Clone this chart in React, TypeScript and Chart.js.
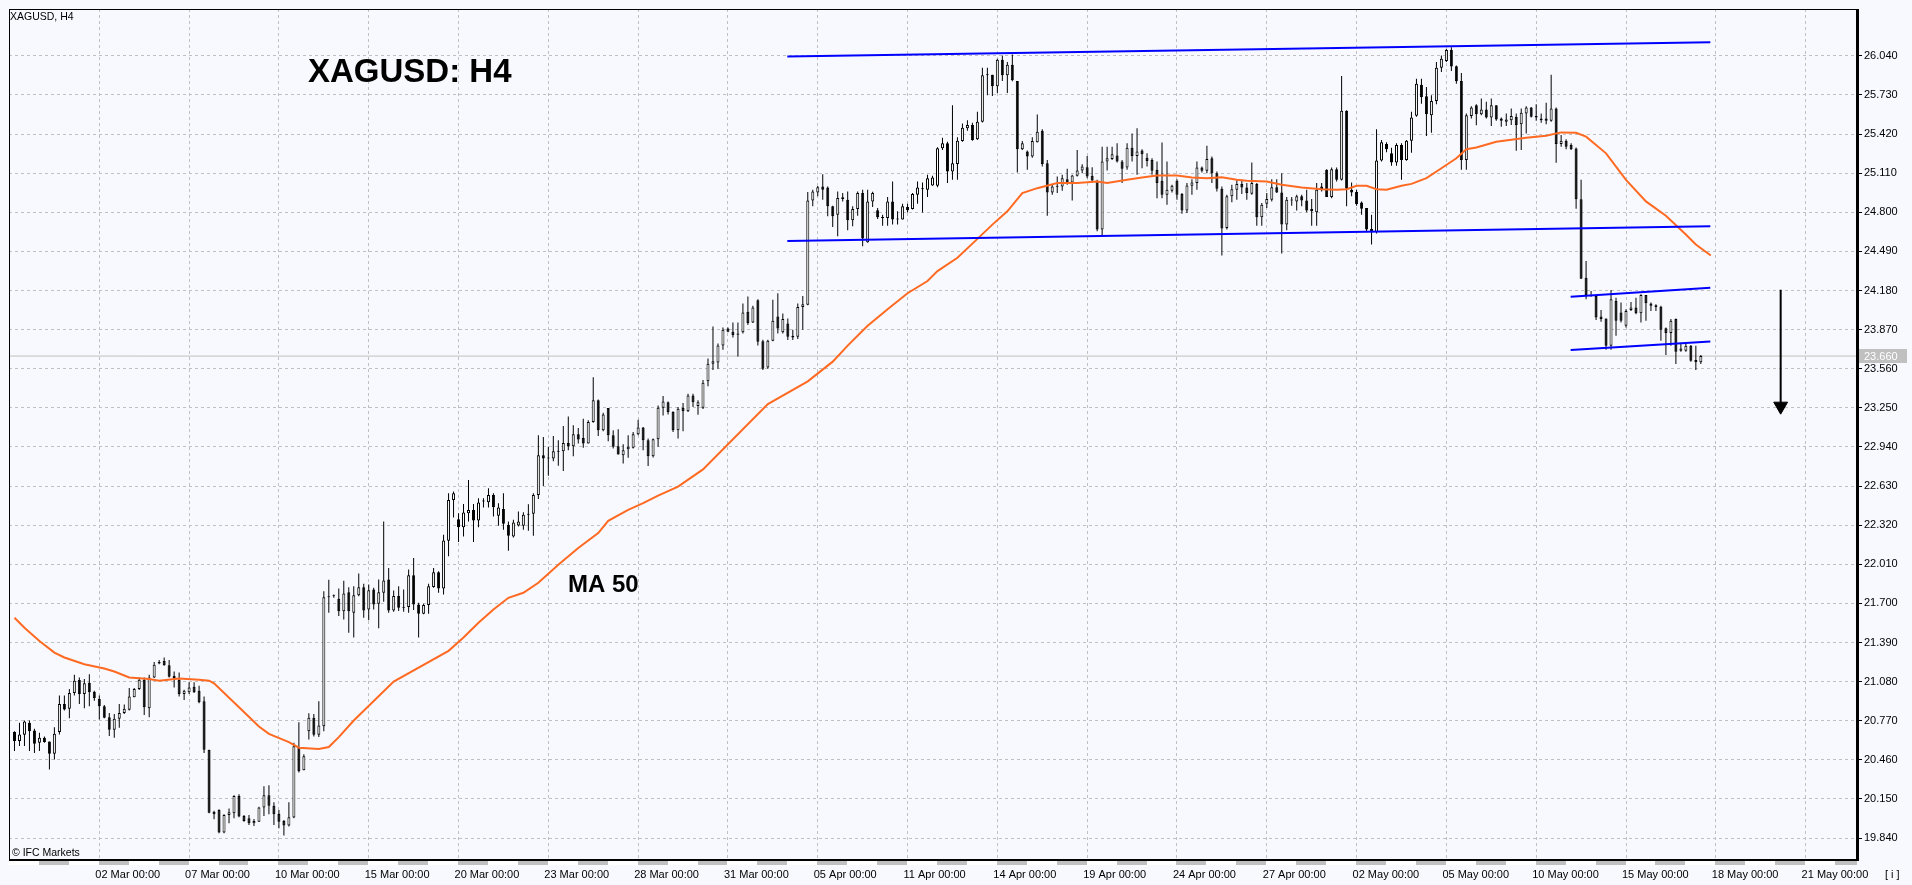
import React, { useEffect, useRef } from 'react';
import { Chart, registerables } from 'chart.js';

Chart.register(...registerables);

// ---------- data (H4 bars, bar index 1 .. 339) ----------
const FIRST_BAR = 1;

const OPEN = [
  20.680,20.609,20.659,20.753,20.693,20.596,20.635,20.606,20.509,20.680,
  20.903,20.864,20.990,21.092,20.982,21.071,21.000,20.942,20.885,20.798,
  20.698,20.785,20.832,20.856,20.955,21.021,21.095,20.869,21.113,21.223,
  21.244,21.210,21.126,21.092,20.982,20.995,21.040,21.008,20.924,20.540,
  20.049,20.062,19.884,20.023,20.036,20.173,20.015,19.997,19.957,19.970,
  20.083,20.180,20.096,20.031,19.976,19.939,20.002,20.561,20.378,20.687,
  20.793,20.659,20.727,21.757,21.765,21.736,21.638,21.788,21.626,21.765,
  21.828,21.652,21.810,21.697,21.784,21.889,21.644,21.758,21.671,21.671,
  21.923,21.692,21.618,21.687,21.829,21.947,21.818,22.196,22.520,22.367,
  22.304,22.415,22.441,22.357,22.507,22.501,22.559,22.394,22.449,22.323,
  22.231,22.317,22.315,22.402,22.410,22.559,22.875,22.854,22.849,22.901,
  22.906,22.972,22.946,23.040,23.011,22.967,23.138,23.309,23.072,23.248,
  23.032,22.946,22.875,22.922,22.933,23.040,23.093,22.993,22.867,23.001,
  23.251,23.295,23.217,23.072,23.248,23.222,23.348,23.264,23.251,23.460,
  23.600,23.610,23.743,23.879,23.853,23.830,23.848,24.011,23.927,24.103,
  23.777,23.570,23.782,23.974,23.848,23.919,23.821,23.814,24.050,24.066,
  24.894,24.957,25.004,24.996,24.847,24.781,24.918,24.899,24.736,24.826,
  24.952,24.563,24.886,24.815,24.763,24.755,24.886,24.747,24.742,24.842,
  24.826,24.939,24.983,24.978,25.012,25.010,25.307,25.346,25.123,25.183,
  25.365,25.465,25.491,25.378,25.517,25.885,25.890,25.799,26.009,25.885,
  25.969,25.841,25.299,25.281,25.241,25.354,25.446,25.189,24.957,25.002,
  25.005,25.062,25.036,25.089,25.131,25.157,25.089,25.049,24.663,25.202,
  25.223,25.249,25.202,25.154,25.312,25.246,25.289,25.233,25.215,25.136,
  25.049,24.939,24.970,25.049,24.944,24.813,25.010,25.031,25.154,25.128,
  25.228,25.110,24.986,24.676,24.926,24.978,25.023,24.997,24.947,25.023,
  24.760,24.868,24.899,24.999,24.957,24.702,24.894,24.886,24.926,24.894,
  24.826,24.800,25.005,25.136,24.920,25.141,25.057,25.604,24.978,24.960,
  24.878,24.834,24.668,24.642,25.210,25.341,25.268,25.194,25.333,25.214,
  25.367,25.564,25.811,25.719,25.569,25.682,25.945,25.998,26.087,25.958,
  25.840,25.214,25.562,25.648,25.577,25.614,25.551,25.648,25.543,25.517,
  25.530,25.556,25.498,25.583,25.630,25.562,25.543,25.543,25.525,25.622,
  25.341,25.367,25.333,25.306,24.904,24.281,24.137,24.137,23.974,23.958,
  23.742,24.097,24.005,23.900,24.026,24.045,24.000,24.145,24.076,24.063,
  24.052,23.881,23.842,23.953,23.703,23.703,23.742,23.629,23.611,
];

const HIGH = [
  20.687,20.753,20.772,20.772,20.706,20.674,20.645,20.606,20.719,20.969,
  20.969,21.021,21.134,21.113,21.100,21.139,21.008,20.969,20.895,20.832,
  20.824,20.903,20.898,21.029,21.029,21.113,21.113,21.134,21.236,21.252,
  21.271,21.252,21.160,21.152,21.016,21.074,21.074,21.047,20.961,20.540,
  20.057,20.068,20.028,20.075,20.180,20.188,20.023,20.023,19.991,20.089,
  20.251,20.259,20.123,20.062,19.984,20.123,20.596,20.758,20.504,20.829,
  20.824,20.924,21.796,21.888,21.770,21.817,21.880,21.828,21.836,21.936,
  21.855,21.850,21.823,21.889,22.349,21.981,21.802,21.836,21.810,21.968,
  22.060,21.705,21.697,21.855,21.981,21.955,22.244,22.572,22.586,22.415,
  22.488,22.678,22.488,22.533,22.533,22.612,22.572,22.494,22.572,22.349,
  22.362,22.428,22.423,22.486,22.572,23.032,23.019,22.941,23.027,22.993,
  23.106,23.182,23.111,23.090,23.164,23.151,23.493,23.316,23.211,23.248,
  23.072,23.080,22.962,23.032,23.059,23.156,23.098,23.006,23.006,23.269,
  23.343,23.301,23.222,23.256,23.288,23.361,23.361,23.309,23.470,23.640,
  23.895,23.760,23.887,23.887,23.927,23.927,24.076,24.132,24.058,24.111,
  23.790,23.790,24.106,24.158,23.998,23.958,23.869,24.076,24.137,24.960,
  24.978,25.009,25.102,25.004,24.852,24.965,24.952,24.965,24.847,24.965,
  24.978,24.978,24.962,24.834,24.781,24.920,25.044,24.807,24.868,24.868,
  24.952,25.044,25.036,25.097,25.089,25.315,25.391,25.359,25.649,25.394,
  25.504,25.530,25.509,25.596,25.946,25.946,25.890,26.017,26.043,25.990,
  26.051,25.841,25.365,25.289,25.394,25.575,25.457,25.215,25.018,25.083,
  25.097,25.144,25.097,25.294,25.180,25.246,25.157,25.057,25.320,25.320,
  25.320,25.346,25.215,25.346,25.425,25.465,25.299,25.267,25.228,25.202,
  25.352,25.202,25.018,25.062,24.952,25.031,25.062,25.202,25.162,25.328,
  25.241,25.123,25.005,24.939,25.018,25.057,25.057,25.031,25.194,25.031,
  24.873,24.952,25.062,25.062,25.110,24.920,24.920,24.939,24.939,24.978,
  24.905,25.031,25.031,25.141,25.154,25.154,25.880,25.609,25.036,24.978,
  24.886,24.834,24.781,25.457,25.373,25.354,25.312,25.346,25.346,25.372,
  25.596,25.859,25.859,25.793,25.727,25.990,26.043,26.095,26.108,25.964,
  25.903,25.583,25.640,25.656,25.701,25.675,25.701,25.648,25.551,25.583,
  25.622,25.583,25.622,25.640,25.635,25.656,25.583,25.667,25.890,25.630,
  25.412,25.378,25.346,25.314,25.057,24.413,24.176,24.137,24.026,23.958,
  24.184,24.123,24.084,24.031,24.089,24.123,24.150,24.145,24.084,24.071,
  24.058,23.887,23.953,23.958,23.755,23.755,23.747,23.742,23.669,
];

const LOW = [
  20.530,20.569,20.569,20.530,20.514,20.530,20.596,20.383,20.462,20.661,
  20.850,20.790,20.969,20.903,20.869,20.885,20.929,20.779,20.790,20.648,
  20.635,20.714,20.824,20.850,20.955,21.013,20.816,20.798,21.108,21.218,
  21.205,21.113,21.034,20.961,20.934,20.982,20.990,20.908,20.514,20.036,
  19.989,19.878,19.878,19.957,19.997,20.005,19.970,19.944,19.936,19.970,
  20.015,20.028,19.944,19.918,19.860,19.931,19.997,20.359,20.378,20.622,
  20.645,20.640,20.687,21.625,21.744,21.599,21.573,21.468,21.429,21.757,
  21.587,21.566,21.652,21.502,21.713,21.626,21.634,21.639,21.634,21.626,
  21.647,21.429,21.613,21.618,21.823,21.784,21.771,22.073,22.381,22.186,
  22.231,22.349,22.186,22.304,22.459,22.459,22.388,22.315,22.283,22.118,
  22.223,22.310,22.283,22.275,22.236,22.528,22.630,22.712,22.827,22.791,
  22.749,22.914,22.867,22.967,22.933,22.967,23.132,23.027,23.064,22.985,
  22.927,22.880,22.809,22.854,22.927,23.032,22.914,22.788,22.856,22.941,
  23.190,23.198,23.059,23.006,23.064,23.217,23.256,23.196,23.240,23.420,
  23.550,23.560,23.711,23.848,23.808,23.656,23.840,23.906,23.922,23.743,
  23.550,23.560,23.777,23.840,23.840,23.787,23.787,23.795,23.869,24.063,
  24.847,24.926,24.899,24.768,24.684,24.610,24.886,24.658,24.689,24.773,
  24.531,24.558,24.842,24.747,24.694,24.694,24.702,24.702,24.742,24.799,
  24.821,24.868,24.799,24.920,25.010,24.999,25.294,25.031,25.057,25.057,
  25.359,25.446,25.367,25.373,25.512,25.728,25.722,25.746,25.841,25.746,
  25.838,25.115,25.294,25.136,25.233,25.352,25.162,24.773,24.939,24.952,
  24.970,25.018,24.894,25.083,25.110,25.070,25.036,24.650,24.616,25.131,
  25.215,25.194,25.031,25.136,25.202,25.097,25.149,25.162,25.097,24.912,
  24.912,24.860,24.957,24.899,24.789,24.794,24.939,24.978,25.115,25.110,
  25.031,24.965,24.458,24.663,24.879,24.899,24.944,24.899,24.939,24.694,
  24.694,24.834,24.886,24.952,24.474,24.658,24.852,24.813,24.847,24.800,
  24.694,24.694,24.965,24.920,24.912,25.044,25.052,24.847,24.926,24.852,
  24.781,24.642,24.544,24.631,25.202,25.275,25.168,25.168,25.057,25.209,
  25.272,25.556,25.661,25.404,25.430,25.656,25.911,25.990,25.919,25.819,
  25.136,25.136,25.543,25.490,25.569,25.543,25.483,25.525,25.477,25.483,
  25.491,25.288,25.293,25.425,25.551,25.525,25.509,25.498,25.517,25.193,
  25.320,25.299,25.293,24.828,24.273,24.110,24.131,23.947,23.932,23.711,
  23.711,23.821,23.926,23.887,24.018,23.992,23.926,23.940,24.018,24.018,
  23.782,23.669,23.742,23.597,23.695,23.695,23.616,23.550,23.597,
];

const CLOSE = [
  20.609,20.661,20.764,20.687,20.588,20.635,20.601,20.509,20.666,20.903,
  20.858,20.990,21.087,20.982,21.066,20.995,20.950,20.885,20.793,20.698,
  20.785,20.832,20.864,20.961,21.021,21.095,20.877,21.113,21.213,21.236,
  21.210,21.118,21.108,20.982,21.008,21.034,20.995,20.916,20.540,20.041,
  20.028,19.884,20.023,20.044,20.173,20.010,19.976,19.957,19.976,20.083,
  20.180,20.096,20.028,19.970,19.939,20.005,20.567,20.370,20.488,20.793,
  20.659,20.732,21.749,21.749,21.757,21.638,21.778,21.638,21.765,21.828,
  21.644,21.805,21.692,21.789,21.881,21.644,21.758,21.666,21.666,21.923,
  21.692,21.618,21.687,21.836,21.947,21.818,22.199,22.520,22.572,22.304,
  22.420,22.441,22.357,22.499,22.512,22.559,22.462,22.459,22.331,22.236,
  22.341,22.349,22.402,22.410,22.559,22.875,22.849,22.849,22.906,22.906,
  22.972,22.946,23.040,22.998,22.967,23.138,23.309,23.072,23.198,23.032,
  22.941,22.880,22.914,22.941,23.040,23.093,22.993,22.867,23.001,23.251,
  23.301,23.217,23.072,23.243,23.222,23.348,23.295,23.295,23.448,23.600,
  23.620,23.743,23.869,23.853,23.827,23.840,24.006,23.922,24.045,23.774,
  23.560,23.782,23.940,23.879,23.953,23.814,23.808,24.050,24.071,24.894,
  24.965,24.999,24.978,24.847,24.768,24.913,24.905,24.736,24.826,24.952,
  24.592,24.886,24.952,24.760,24.755,24.886,24.742,24.742,24.847,24.815,
  24.944,24.997,24.991,25.070,25.075,25.307,25.346,25.123,25.189,25.367,
  25.470,25.491,25.373,25.517,25.885,25.890,25.799,26.009,25.885,25.969,
  25.846,25.299,25.346,25.241,25.365,25.438,25.183,24.957,25.005,25.010,
  25.070,25.036,25.091,25.131,25.162,25.083,25.052,24.663,25.202,25.228,
  25.260,25.202,25.144,25.312,25.246,25.281,25.260,25.207,25.128,25.031,
  24.939,24.978,25.010,24.939,24.813,25.012,25.036,25.154,25.128,25.223,
  25.110,24.986,24.671,24.926,24.983,25.023,24.997,24.952,25.031,24.760,
  24.860,24.905,24.999,24.957,24.702,24.899,24.899,24.926,24.894,24.813,
  24.807,24.978,24.978,24.920,25.141,25.057,25.604,24.986,24.957,24.865,
  24.828,24.663,24.642,25.210,25.354,25.299,25.194,25.333,25.214,25.367,
  25.551,25.819,25.714,25.577,25.682,25.945,26.016,26.087,25.956,25.838,
  25.214,25.569,25.630,25.577,25.614,25.551,25.648,25.535,25.525,25.535,
  25.562,25.491,25.588,25.630,25.556,25.551,25.530,25.525,25.622,25.341,
  25.367,25.320,25.299,24.904,24.273,24.142,24.145,23.966,23.953,23.742,
  24.110,23.940,23.940,24.018,24.045,24.000,24.145,24.079,24.058,24.050,
  23.868,23.842,23.940,23.695,23.721,23.742,23.624,23.611,23.660,
];

// Moving average (MA 50)
const MA50_BARS = [
  1,3,6,9,11,15,19,21,24,28,30,34,38,40,41,46,50,52,56,58,
  62,64,66,69,77,88,91,94,97,100,103,106,110,114,118,120,124,127,130,134,
  139,152,160,165,168,172,176,180,184,186,190,194,197,200,203,206,210,214,218,220,
  224,227,230,234,237,240,243,246,248,252,255,259,263,266,268,270,272,274,276,279,
  281,284,287,290,292,294,298,304,308,311,314,316,320,324,328,332,336,338,341,
];
const MA50_VALUES = [
  21.586,21.507,21.402,21.310,21.271,21.218,21.184,21.160,21.113,21.100,
  21.087,21.105,21.095,21.087,21.066,20.877,20.724,20.666,20.601,20.556,
  20.546,20.561,20.640,20.772,21.080,21.324,21.429,21.547,21.652,21.744,
  21.784,21.863,22.007,22.139,22.257,22.354,22.441,22.494,22.554,22.625,
  22.762,23.280,23.460,23.616,23.743,23.900,24.032,24.158,24.255,24.334,
  24.439,24.589,24.702,24.807,24.952,24.991,25.031,25.031,25.044,25.031,
  25.057,25.076,25.091,25.091,25.076,25.070,25.078,25.057,25.049,25.044,
  25.018,24.997,24.983,24.978,24.983,25.010,25.010,24.983,24.978,25.010,
  25.025,25.070,25.149,25.228,25.299,25.314,25.359,25.391,25.407,25.433,
  25.430,25.399,25.267,25.057,24.886,24.773,24.623,24.544,24.457,
];

// Trend channel lines
const CHANNEL_BARS = [155.9, 340.9];
const CHANNEL_UPPER = [26.035, 26.148];
const CHANNEL_LOWER = [24.573, 24.689];
const SMALL_CHANNEL_BARS = [312.9, 340.9];
const SMALL_CHANNEL_UPPER = [24.131, 24.202];
const SMALL_CHANNEL_LOWER = [23.708, 23.776];

// Forecast arrow
const ARROW_BAR = 355;
const ARROW_FROM = 24.186;
const ARROW_TO = 23.263;

const LAST_PRICE = 23.66;

// Axes
const LABEL_BARS = [18,36,54,72,90,108,126,144,162,180,198,216,234,252,270,288,306,324,342,360];
const DATE_LABELS = [
  '02 Mar 00:00','07 Mar 00:00','10 Mar 00:00','15 Mar 00:00','20 Mar 00:00',
  '23 Mar 00:00','28 Mar 00:00','31 Mar 00:00','05 Apr 00:00','11 Apr 00:00',
  '14 Apr 00:00','19 Apr 00:00','24 Apr 00:00','27 Apr 00:00','02 May 00:00',
  '05 May 00:00','10 May 00:00','15 May 00:00','18 May 00:00','21 May 00:00',
];
const PRICE_TICKS = [
  19.84,20.15,20.46,20.77,21.08,21.39,21.70,22.01,22.32,22.63,22.94,
  23.25,23.56,23.87,24.18,24.49,24.80,25.11,25.42,25.73,26.04,
];
const DAY_BAND_ORIGIN = 282;
const BARS_PER_DAY = 6;

// ---------- styling ----------
const BG = '#F8F9FE';
const GRID = '#C0C0C0';
const FONT = '"Liberation Sans", Arial, sans-serif';
const NARROW_FONT = '"Liberation Sans Narrow", "Arial Narrow", "Liberation Sans", Arial, sans-serif';

export default function App() {
  const canvasRef = useRef<HTMLCanvasElement>(null);

  useEffect(() => {
    document.body.style.margin = '0';
    document.body.style.background = BG;
    const canvas = canvasRef.current;
    if (!canvas) return;

    const bars = OPEN.map((_, k) => FIRST_BAR + k);
    const wickData = bars.map((x, k) => ({ x, y: [LOW[k], HIGH[k]] }));
    const bodyData = bars.map((x, k) => ({ x, y: [OPEN[k], CLOSE[k]] }));
    const bodyFill = bars.map((_, k) => (CLOSE[k] >= OPEN[k] ? '#FFFFFF' : '#000000'));
    const maData = MA50_BARS.map((x, k) => ({ x, y: MA50_VALUES[k] }));
    const line = (xs: number[], ys: number[]) => xs.map((x, k) => ({ x, y: ys[k] }));

    const X_MIN = -0.1;
    const X_MAX = 370.3;

    const decor = {
      id: 'decor',
      beforeDraw(chart: any) {
        const c = chart.ctx;
        c.save();
        c.fillStyle = BG;
        c.fillRect(0, 0, chart.width, chart.height);
        c.restore();
      },
      afterDraw(chart: any) {
        const c = chart.ctx;
        const a = chart.chartArea;
        const xs = chart.scales.x;
        const ys = chart.scales.y;
        c.save();
        // day separator band under time axis
        const kStart = Math.floor((X_MIN - DAY_BAND_ORIGIN) / BARS_PER_DAY);
        const kEnd = Math.ceil((X_MAX - DAY_BAND_ORIGIN) / BARS_PER_DAY);
        for (let k = kStart; k <= kEnd; k++) {
          const b0 = DAY_BAND_ORIGIN + k * BARS_PER_DAY;
          let x0 = Math.floor(xs.getPixelForValue(b0));
          let x1 = Math.floor(xs.getPixelForValue(b0 + BARS_PER_DAY));
          x0 = Math.max(x0, a.left);
          x1 = Math.min(x1, a.right);
          if (x1 <= x0) continue;
          c.fillStyle = k % 2 === 0 ? GRID : '#FFFFFF';
          c.fillRect(x0, a.bottom + 1, x1 - x0, 4);
        }
        // frame
        c.fillStyle = '#000000';
        c.fillRect(a.left, a.top, 1, a.bottom - a.top);
        c.fillRect(a.left, a.top, a.right - a.left, 1);
        c.fillRect(a.left, a.bottom - 1, a.right - a.left + 2, 2);
        c.fillRect(a.right - 1, a.top, 3, a.bottom - a.top + 1);
        // last price label
        const py = ys.getPixelForValue(LAST_PRICE);
        c.fillStyle = GRID;
        c.fillRect(a.right + 2, Math.round(py) - 7, 48, 14);
        c.fillStyle = '#FFFFFF';
        c.font = `11px ${FONT}`;
        c.textBaseline = 'middle';
        c.textAlign = 'left';
        c.fillText(LAST_PRICE.toFixed(3), a.right + 7, py + 0.5);
        // texts
        c.fillStyle = '#000000';
        c.font = `10.5px ${FONT}`;
        c.fillText('XAGUSD, H4', 10, 17);
        c.textBaseline = 'alphabetic';
        c.font = `bold 33px ${FONT}`;
        c.fillText('XAGUSD: H4', 308, 82);
        c.font = `bold 24px ${FONT}`;
        c.fillText('MA 50', 568, 592);
        c.font = `10.5px ${FONT}`;
        c.fillText('\u00A9 IFC Markets', 12, 856);
        c.font = `11px ${FONT}`;
        c.textBaseline = 'middle';
        c.fillText('[ i ]', 1885, 875);
        c.restore();
      },
    };

    const chart = new Chart(canvas, {
      type: 'bar',
      data: {
        datasets: [
          {
            type: 'line',
            data: [{ x: ARROW_BAR, y: ARROW_FROM }, { x: ARROW_BAR, y: ARROW_TO }],
            borderColor: '#000000',
            borderWidth: 2,
            pointRadius: [0, 8],
            pointStyle: 'triangle',
            pointRotation: 180,
            pointBackgroundColor: '#000000',
            pointBorderColor: '#000000',
            pointBorderWidth: 1,
            order: 0,
          } as any,
          { type: 'line', data: line(CHANNEL_BARS, CHANNEL_UPPER), borderColor: '#0000FF', borderWidth: 2, pointRadius: 0, order: 1 } as any,
          { type: 'line', data: line(CHANNEL_BARS, CHANNEL_LOWER), borderColor: '#0000FF', borderWidth: 2, pointRadius: 0, order: 1 } as any,
          { type: 'line', data: line(SMALL_CHANNEL_BARS, SMALL_CHANNEL_UPPER), borderColor: '#0000FF', borderWidth: 2, pointRadius: 0, order: 1 } as any,
          { type: 'line', data: line(SMALL_CHANNEL_BARS, SMALL_CHANNEL_LOWER), borderColor: '#0000FF', borderWidth: 2, pointRadius: 0, order: 1 } as any,
          { type: 'line', data: maData, borderColor: '#FF6A22', borderWidth: 2, pointRadius: 0, tension: 0, order: 2 } as any,
          {
            type: 'bar',
            data: bodyData,
            backgroundColor: bodyFill,
            borderColor: '#000000',
            borderWidth: 1,
            borderSkipped: false,
            barThickness: 3,
            minBarLength: 1,
            grouped: false,
            inflateAmount: 0,
            order: 3,
          } as any,
          {
            type: 'bar',
            data: wickData,
            backgroundColor: '#000000',
            borderWidth: 0,
            barThickness: 1,
            grouped: false,
            inflateAmount: 0,
            order: 4,
          } as any,
          {
            type: 'line',
            data: [{ x: X_MIN, y: LAST_PRICE }, { x: X_MAX, y: LAST_PRICE }],
            borderColor: GRID,
            borderWidth: 1,
            pointRadius: 0,
            order: 5,
          } as any,
        ],
      },
      options: {
        animation: false,
        responsive: false,
        events: [],
        layout: { padding: { left: 5, top: 5, right: 0, bottom: 0 } },
        plugins: { legend: { display: false }, tooltip: { enabled: false } },
        scales: {
          x: {
            type: 'linear',
            min: X_MIN,
            max: X_MAX,
            offset: false,
            grid: { color: GRID, drawTicks: false, offset: false },
            border: { display: false, dash: [3, 3] },
            ticks: {
              autoSkip: false,
              maxRotation: 0,
              minRotation: 0,
              align: 'start',
              labelOffset: -4,
              padding: 8,
              color: '#000000',
              font: { family: NARROW_FONT, size: 11 },
              callback: (v: any) => {
                const idx = LABEL_BARS.indexOf(Math.round(Number(v)));
                return idx >= 0 ? DATE_LABELS[idx] : '';
              },
            },
            afterBuildTicks: (s: any) => {
              s.ticks = LABEL_BARS.map((value) => ({ value }));
            },
            afterFit: (s: any) => {
              s.height = 25;
            },
          },
          y: {
            type: 'linear',
            position: 'right',
            min: 19.666,
            max: 26.411,
            beginAtZero: false,
            grid: { color: GRID, drawTicks: true, tickLength: 5, tickColor: '#000000', tickWidth: 1, tickBorderDash: [] },
            border: { display: false, dash: [3, 3] },
            ticks: {
              padding: 2,
              color: '#000000',
              font: { family: FONT, size: 11 },
              callback: (v: any) => Number(v).toFixed(3),
            },
            afterBuildTicks: (s: any) => {
              s.ticks = PRICE_TICKS.map((value) => ({ value }));
            },
            afterFit: (s: any) => {
              s.width = 55;
            },
          },
        },
      } as any,
      plugins: [decor],
    });

    return () => chart.destroy();
  }, []);

  return (
    <div style={{ position: 'absolute', left: 0, top: 0, width: 1912, height: 885, background: BG }}>
      <canvas ref={canvasRef} width={1912} height={885} style={{ display: 'block' }} />
    </div>
  );
}
